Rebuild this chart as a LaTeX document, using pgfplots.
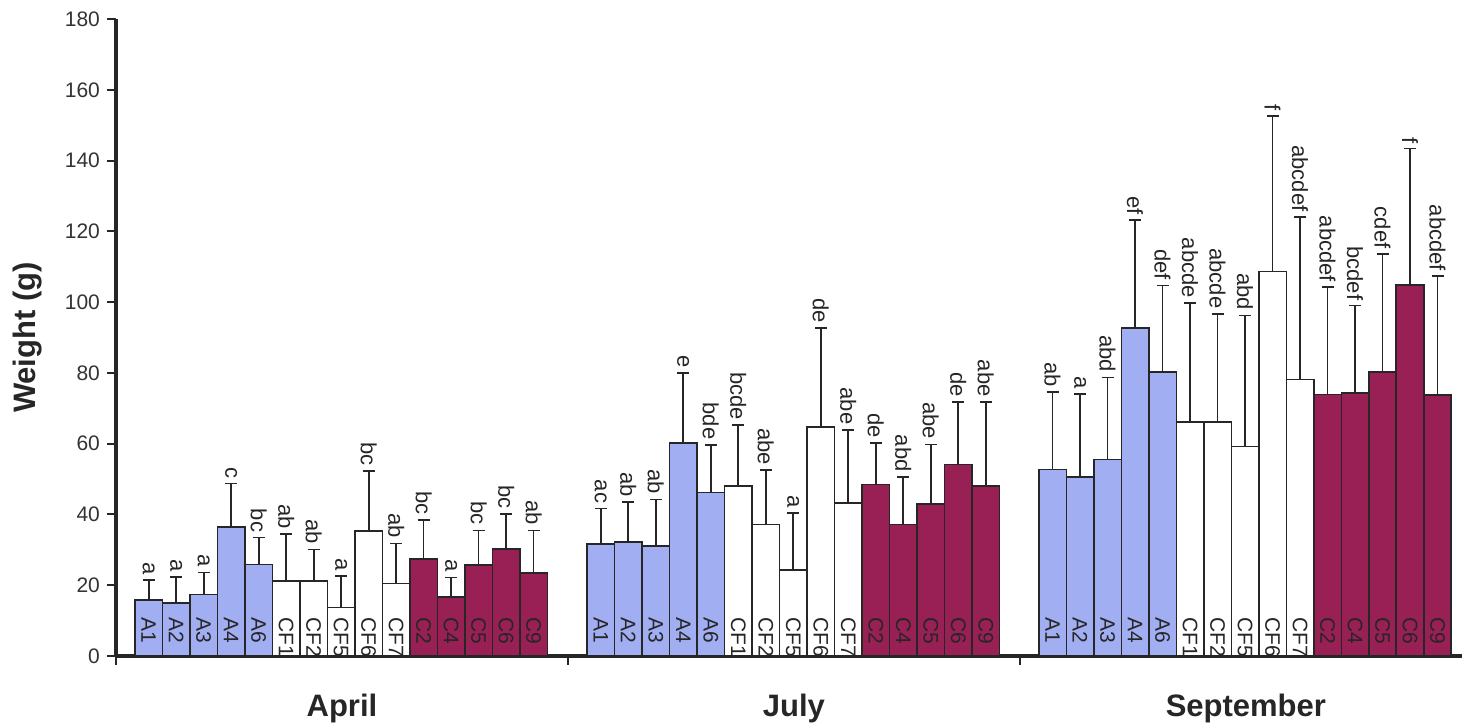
\documentclass[border=0pt]{standalone}
\usepackage{pgfplots}
\pgfplotsset{compat=1.18}
\usepackage{pgfplotstable}
\usepackage{fontspec}
\setmainfont{Liberation Sans}
\definecolor{barblue}{RGB}{162,174,242}
\definecolor{barred}{RGB}{152,32,84}

\pgfplotstableread{
x y e lab name
1.19 15.8 21.4 a A1
2.19 15.0 22.4 a A2
3.19 17.4 23.6 a A3
4.19 36.5 48.7 c A4
5.19 25.8 33.5 bc A6
17.63 31.6 41.7 ac A1
18.63 32.2 43.5 ab A2
19.63 31.0 44.2 ab A3
20.63 60.2 80.0 e A4
21.63 46.2 59.7 bde A6
34.06 52.7 74.6 ab A1
35.06 50.6 74.1 a A2
36.06 55.5 78.7 abd A3
37.06 92.6 123.2 ef A4
38.06 80.2 104.7 def A6
}\blue

\pgfplotstableread{
x y e lab name
6.19 21.2 34.4 ab CF1
7.19 21.2 30.1 ab CF2
8.19 13.7 22.6 a CF5
9.19 35.3 52.2 bc CF6
10.19 20.5 31.8 ab CF7
22.63 48.0 65.2 bcde CF1
23.63 37.2 52.5 abe CF2
24.63 24.3 40.4 a CF5
25.63 64.7 92.7 de CF6
26.63 43.3 63.9 abe CF7
39.06 66.1 99.7 abcde CF1
40.06 66.1 96.7 abcde CF2
41.06 59.2 96.2 abd CF5
42.06 108.6 152.6 f CF6
43.06 78.1 124.1 abcdef CF7
}\white

\pgfplotstableread{
x y e lab name
11.19 27.4 38.4 bc C2
12.19 16.7 22.2 a C4
13.19 25.7 35.5 bc C5
14.19 30.3 40.1 bc C6
15.19 23.5 35.5 ab C9
27.63 48.5 60.2 de C2
28.63 37.2 50.6 abd C4
29.63 42.9 59.8 abe C5
30.63 54.1 71.8 de C6
31.63 48.0 71.8 abe C9
44.06 73.9 104.2 abcdef C2
45.06 74.3 99.0 bcdef C4
46.06 80.2 113.6 cdef C5
47.06 104.9 143.4 f C6
48.06 73.8 107.3 abcdef C9
}\red

\pgfplotsset{
  mybar/.style={ybar, bar width=1, bar shift=0pt, draw=black!85, line width=0.8pt,
    error bars/y dir=plus, error bars/y explicit,
    error bars/error bar style={line width=0.8pt, black!85},
    error bars/error mark options={rotate=90, mark size=3pt, line width=0.8pt, black!85}},
  letters/.style={draw=none, mark=none, nodes near coords, point meta=explicit symbolic,
    nodes near coords style={rotate=-90, anchor=east, inner sep=2.5pt, font=\fontsize{11}{12}\selectfont, text=black!85}},
  names/.style={draw=none, mark=none, nodes near coords, point meta=explicit symbolic,
    nodes near coords style={rotate=-90, anchor=west, inner sep=0pt, font=\fontsize{10.5}{12}\selectfont, text=black!85}},
}

\begin{document}
\begin{tikzpicture}
\begin{axis}[
  at={(0,0)}, anchor=south west, scale only axis,
  width=673pt, height=318.5pt,
  xmin=0, xmax=48.95, ymin=0, ymax=180,
  clip=false,
  axis x line*=bottom, axis y line*=left,
  axis line style={line width=1.6pt, black!85},
  xtick={0,16.436,32.872}, xticklabels={},
  ytick={0,20,...,180},
  tick align=outside, major tick length=4.5pt,
  tick style={line width=1pt, black!85},
  /pgf/number format/assume math mode=true,
  yticklabel style={font=\fontsize{10.5}{12}\selectfont, text=black!80},
  ylabel={Weight (g)},
  ylabel style={at={(axis description cs:0,0.5)}, anchor=center, yshift=44pt,
    font=\bfseries\fontsize{15.5}{18}\selectfont, text=black!85},
]
\addplot[fill=barblue, mybar] table[x=x, y=y, y error expr=\thisrow{e}-\thisrow{y}] \blue;
\addplot[fill=white, mybar] table[x=x, y=y, y error expr=\thisrow{e}-\thisrow{y}] \white;
\addplot[fill=barred, mybar] table[x=x, y=y, y error expr=\thisrow{e}-\thisrow{y}] \red;

\addplot[letters] table[x=x, y=e, meta=lab] \blue;
\addplot[letters] table[x=x, y=e, meta=lab] \white;
\addplot[letters] table[x=x, y=e, meta=lab] \red;

\addplot[names] table[x=x, y expr=11, meta=name] \blue;
\addplot[names] table[x=x, y expr=11, meta=name] \white;
\addplot[names] table[x=x, y expr=11, meta=name] \red;

\node[anchor=base, font=\bfseries\fontsize{15.5}{18}\selectfont, text=black!85] at (axis cs:8.218,0) [yshift=-30.5pt] {April};
\node[anchor=base, font=\bfseries\fontsize{15.5}{18}\selectfont, text=black!85] at (axis cs:24.654,0) [yshift=-30.5pt] {July};
\node[anchor=base, font=\bfseries\fontsize{15.5}{18}\selectfont, text=black!85] at (axis cs:41.09,0) [yshift=-30.5pt] {September};
\end{axis}
\pgfresetboundingbox
\path[use as bounding box] (-58pt,-35.5pt) rectangle (673pt,328pt);
\end{tikzpicture}
\end{document}
